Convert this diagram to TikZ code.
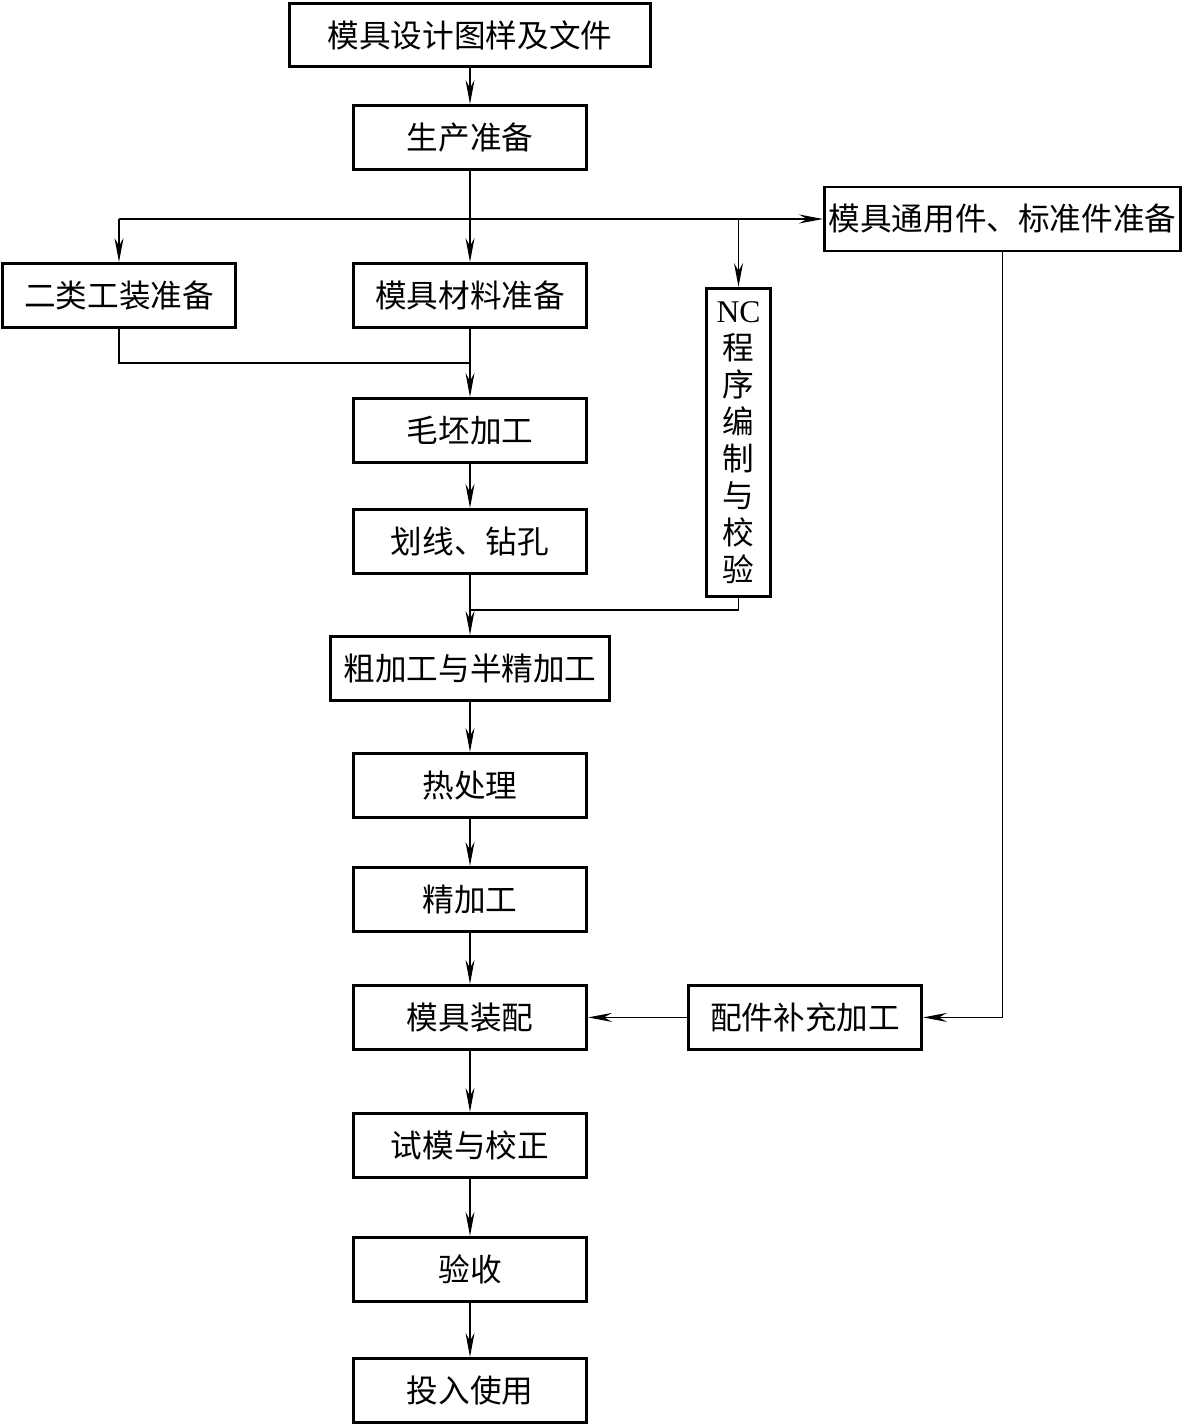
\documentclass[tikz,border=0pt]{standalone}
\usepackage{fontspec}
\setmainfont{Liberation Serif}
\newfontfamily\cjk{Noto Sans CJK SC}
\usetikzlibrary{arrows.meta,positioning}
\definecolor{Ink}{HTML}{000000}
\tikzset{
  stepbox/.style={draw=Ink,fill=white,line width=1.7pt,minimum width=4.66cm,minimum height=1.28cm,align=center,inner sep=0pt,font=\cjk\fontsize{18}{21}\selectfont},
  widebox/.style={stepbox,minimum width=#1},
  tallbox/.style={stepbox,minimum width=1.28cm,minimum height=6.16cm},
  flow/.style={-{Stealth[length=4.8mm,width=1.8mm,inset=1.6mm]},draw=Ink,line width=.7pt},
  plainline/.style={draw=Ink,line width=.7pt}
}
\begin{document}
\begin{tikzpicture}
  \useasboundingbox (0,0) rectangle (23.68,-28.56);
  % main column
  \node[widebox=7.22cm,minimum height=1.26cm] (design) at (9.40,-0.70) {模具设计图样及文件};
  \node[stepbox,below=0.72cm of design] (prep) {生产准备};
  \node[stepbox,below=1.82cm of prep] (matl) {模具材料准备};
  \node[stepbox,below=1.36cm of matl] (blank) {毛坯加工};
  \node[stepbox,below=0.88cm of blank] (drill) {划线、钻孔};
  \node[widebox=5.58cm,below=1.20cm of drill] (rough) {粗加工与半精加工};
  \node[stepbox,below=1.00cm of rough] (heat) {热处理};
  \node[stepbox,below=0.94cm of heat] (finish) {精加工};
  \node[stepbox,below=1.02cm of finish] (asm) {模具装配};
  \node[stepbox,below=1.22cm of asm] (trial) {试模与校正};
  \node[stepbox,below=1.14cm of trial] (accept) {验收};
  \node[stepbox,below=1.08cm of accept] (use) {投入使用};
  % side branches
  \node[stepbox,left=2.30cm of matl] (tool) {二类工装准备};
  \node[widebox=7.12cm] (std) at (20.05,-4.38) {模具通用件、标准件准备};
  \node[tallbox] (nc) at (14.77,-8.85) {{\rmfamily NC}\\程\\序\\编\\制\\与\\校\\验};
  \node[stepbox,right=1.98cm of asm] (part) {配件补充加工};
  \coordinate (bus) at (9.40,-4.38);
  \coordinate (join1) at (9.40,-7.26);
  \coordinate (join2) at (9.40,-12.20);

  \draw[flow] (design) -- (prep);
  \draw[flow] (prep) -- (matl);
  \draw[plainline] (tool.north |- bus) -- (bus);
  \draw[flow] (tool.north |- bus) -- (tool);
  \draw[flow] (nc.north |- bus) -- (nc);
  \draw[flow] (bus) -- (std);
  \draw[plainline] (tool.south) |- (join1);
  \draw[flow] (matl) -- (blank);
  \draw[flow] (blank) -- (drill);
  \draw[plainline] (nc.south) |- (join2);
  \draw[flow] (drill) -- (rough);
  \draw[flow] (rough) -- (heat);
  \draw[flow] (heat) -- (finish);
  \draw[flow] (finish) -- (asm);
  \draw[flow] (std.south) |- (part.east);
  \draw[flow] (part) -- (asm);
  \draw[flow] (asm) -- (trial);
  \draw[flow] (trial) -- (accept);
  \draw[flow] (accept) -- (use);
\end{tikzpicture}
\end{document}
